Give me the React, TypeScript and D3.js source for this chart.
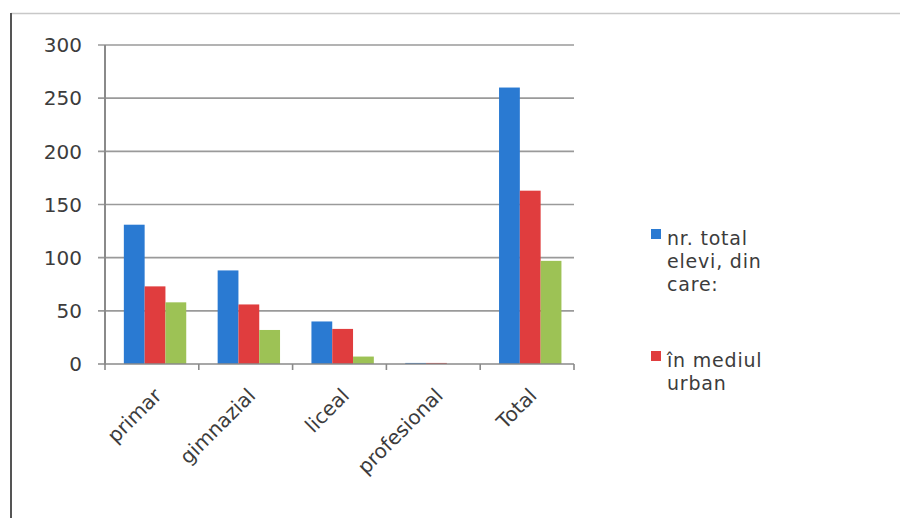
import React from "react";
import * as d3 from "d3";

const categories = ["primar", "gimnazial", "liceal", "profesional", "Total"];
const seriesNames = ["nr. total elevi, din care:", "în mediul urban", "în mediul rural"];
const totalValues = [131, 88, 40, 1, 260];
const urbanValues = [73, 56, 33, 1, 163];
const ruralValues = [58, 32, 7, 0, 97];
const yTicks = [0, 50, 100, 150, 200, 250, 300];
const legendLines = [["nr. total", "elevi, din", "care:"], ["în mediul", "urban"]];

const colors = ["#2a7ad2", "#e03d3e", "#9dc255"];
const FONT = "'DejaVu Sans', sans-serif";
const TEXT = "#3c3c3c";

export default function App() {
  const W = 900, H = 518;
  const left = 105, right = 574, top = 45, bottom = 364;
  const x0 = d3.scaleBand<string>().domain(categories).range([left, right]).padding(0);
  const x1 = d3
    .scaleBand<string>()
    .domain(seriesNames)
    .range([0, x0.bandwidth()])
    .paddingInner(0)
    .paddingOuter(0.755)
    .align(0.6);
  const y = d3.scaleLinear().domain([0, 300]).range([bottom, top]);
  const data = [totalValues, urbanValues, ruralValues];
  const boundaries = categories.map((c) => x0(c)!).concat([right]);

  return (
    <svg width={W} height={H} style={{ position: "absolute", left: 0, top: 0, background: "#fff" }} fontFamily={FONT}>
      <rect x={0} y={0} width={W} height={H} fill="#fff" />
      {/* frame */}
      <line x1={11} x2={W} y1={13.5} y2={13.5} stroke="#c8c8c8" strokeWidth={1.5} />
      <line x1={11} x2={11} y1={13} y2={H} stroke="#555" strokeWidth={2} />
      {/* gridlines */}
      {yTicks.map((t) => (
        <g key={t}>
          {t > 0 && <line x1={98} x2={right} y1={y(t)} y2={y(t)} stroke="#9a9a9a" strokeWidth={1.6} />}
          <text x={82} y={y(t)} dy="0.36em" textAnchor="end" fontSize={20} fill={TEXT}>{t}</text>
        </g>
      ))}
      {/* bars */}
      {data.map((vals, si) =>
        categories.map((c, ci) => (
          <rect
            key={`${si}-${ci}`}
            x={x0(c)! + x1(seriesNames[si])!}
            y={y(vals[ci])}
            width={x1.bandwidth()}
            height={bottom - y(vals[ci])}
            fill={colors[si]}
          />
        ))
      )}
      {/* axes */}
      <line x1={left} x2={left} y1={top} y2={bottom + 1} stroke="#8a8a8a" strokeWidth={2} />
      <line x1={98} x2={right} y1={bottom} y2={bottom} stroke="#8a8a8a" strokeWidth={1.6} />
      {boundaries.map((bx, i) => (
        <line key={i} x1={bx} x2={bx} y1={bottom} y2={bottom + 6} stroke="#8a8a8a" strokeWidth={1.6} />
      ))}
      {/* x labels */}
      {categories.map((c) => {
        const cx = x0(c)! + x0.bandwidth() / 2 + 1;
        return (
          <text key={c} transform={`translate(${cx},${387}) rotate(-45)`} textAnchor="end" dy="0.7em" fontSize={20} fill={TEXT}>
            {c}
          </text>
        );
      })}
      {/* legend */}
      {legendLines.map((lines, li) => {
        const baseY = li === 0 ? 245 : 367;
        return (
          <g key={li}>
            <rect x={651} y={baseY - 16} width={10} height={10} fill={colors[li]} />
            {lines.map((t, k) => (
              <text key={k} x={667} y={baseY + k * 23} fontSize={19} letterSpacing={0.8} fill={TEXT}>{t}</text>
            ))}
          </g>
        );
      })}
    </svg>
  );
}
